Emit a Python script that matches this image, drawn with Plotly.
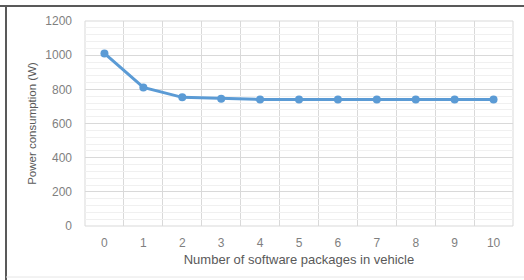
import plotly.graph_objects as go

packages = [0, 1, 2, 3, 4, 5, 6, 7, 8, 9, 10]
power_w = [1010, 811, 753, 745, 741, 741, 741, 741, 741, 741, 741]
y_ticks = [0, 200, 400, 600, 800, 1000, 1200]

W, H = 524, 280
L, R, T, B = 85, 11, 21, 54
pw, ph = W - L - R, H - T - B

def px(x):
    return (x - L) / pw

def py(y):
    return (H - B - y) / ph

font = "Liberation Sans"
fig = go.Figure()
fig.add_trace(go.Scatter(
    x=packages, y=power_w, mode="lines+markers",
    line=dict(color="#5B9BD5", width=3),
    marker=dict(color="#5B9BD5", size=8),
    showlegend=False,
))

fig.update_layout(
    width=W, height=H,
    margin=dict(l=L, r=R, t=T, b=B),
    paper_bgcolor="white", plot_bgcolor="white",
    font=dict(family=font, size=12, color="#7F7F7F"),
    xaxis=dict(
        range=[-0.5, 10.5], tickmode="array", tickvals=packages,
        ticktext=[str(p) for p in packages],
        showgrid=False, zeroline=False, showline=False,
        ticklabelstandoff=8,
        minor=dict(showgrid=True, tickmode="linear", tick0=-0.5, dtick=1,
                   gridcolor="#D9D9D9", gridwidth=1),
        title=dict(text="Number of software packages in vehicle",
                   font=dict(size=13, color="#595959"), standoff=5),
        fixedrange=True,
    ),
    yaxis=dict(
        range=[0, 1200], tickmode="array", tickvals=y_ticks,
        showgrid=True, gridcolor="#D9D9D9", gridwidth=1,
        zeroline=False, showline=False,
        ticklabelstandoff=12,
        minor=dict(showgrid=True, tickmode="linear", tick0=0, dtick=40,
                   gridcolor="#F0F0F0", gridwidth=1),
        title=dict(text="Power consumption (W)",
                   font=dict(size=11.5, color="#595959"), standoff=6),
        fixedrange=True,
    ),
    shapes=[
        dict(type="rect", xref="paper", yref="paper", x0=0, x1=1, y0=0, y1=1,
             line=dict(color="#D9D9D9", width=1), layer="below"),
        dict(type="line", xref="paper", yref="paper",
             x0=px(0), x1=px(524), y0=py(6), y1=py(6),
             line=dict(color="#595959", width=2)),
        dict(type="line", xref="paper", yref="paper",
             x0=px(6), x1=px(6), y0=py(6), y1=py(280),
             line=dict(color="#595959", width=2)),
        dict(type="line", xref="paper", yref="paper",
             x0=px(6), x1=px(524), y0=py(277), y1=py(277),
             line=dict(color="#E6E6E6", width=1)),
    ],
)

fig.write_html("out.html", config={"displayModeBar": False},
               post_script="document.body.style.margin='0';document.body.style.padding='0';")
